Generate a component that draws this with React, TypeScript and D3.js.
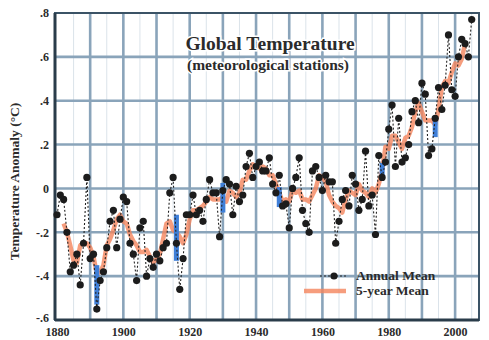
import { useRef, useEffect } from 'react';
import * as d3 from 'd3';

// annual mean anomaly (°C), one value per year starting 1880
const startYear = 1880;
const annualMean = [
  -0.12, -0.03, -0.05, -0.20, -0.38, -0.35, -0.30, -0.44, -0.25, 0.05,
  -0.32, -0.30, -0.55, -0.42, -0.38, -0.27, -0.15, -0.10, -0.27, -0.14,
  -0.04, -0.06, -0.25, -0.30, -0.42, -0.18, -0.15, -0.40, -0.32, -0.36,
  -0.30, -0.33, -0.27, -0.25, -0.02, 0.05, -0.25, -0.46, -0.32, -0.12,
  -0.12, -0.03, -0.12, -0.10, -0.15, -0.05, 0.04, -0.02, -0.02, -0.22,
  -0.01, 0.04, 0.02, -0.12, 0.01, -0.06, -0.03, 0.10, 0.16, 0.05,
  0.10, 0.12, 0.08, 0.08, 0.14, 0.02, -0.02, 0.06, -0.08, -0.07,
  -0.18, 0.00, 0.05, 0.14, -0.10, -0.16, -0.20, 0.08, 0.10, 0.05,
  -0.01, 0.06, 0.03, 0.03, -0.25, -0.15, -0.05, -0.01, -0.08, 0.06,
  0.02, -0.10, -0.05, 0.17, -0.08, -0.03, -0.21, 0.15, 0.05, 0.12,
  0.27, 0.38, 0.10, 0.32, 0.12, 0.14, 0.20, 0.35, 0.40, 0.30,
  0.48, 0.43, 0.15, 0.18, 0.32, 0.46, 0.36, 0.47, 0.70, 0.45,
  0.42, 0.60, 0.68, 0.66, 0.60, 0.77,
];

// 5-year running mean, starting 1882
const fiveYearStart = 1882;
const fiveYearMean = [
  -0.16, -0.20, -0.26, -0.33, -0.34, -0.26, -0.25, -0.25,
  -0.27, -0.31, -0.39, -0.38, -0.35, -0.26, -0.23, -0.19, -0.14, -0.12,
  -0.15, -0.16, -0.21, -0.24, -0.26, -0.29, -0.29, -0.28, -0.31, -0.34,
  -0.32, -0.30, -0.23, -0.16, -0.15, -0.19, -0.20, -0.22, -0.25, -0.21,
  -0.14, -0.10, -0.10, -0.09, -0.08, -0.06, -0.04, -0.05, -0.05, -0.05,
  -0.04, -0.06, -0.01, -0.02, -0.04, -0.02, 0.04, 0.04, 0.08, 0.11,
  0.10, 0.09, 0.10, 0.09, 0.06, 0.06, 0.02, -0.02, -0.06, -0.05,
  -0.06, -0.01, -0.02, -0.01, -0.05, -0.05, -0.06, -0.03, 0.00, 0.06,
  0.05, 0.03, -0.03, -0.06, -0.08, -0.09, -0.11, -0.05, -0.01, -0.02,
  -0.03, 0.02, -0.01, -0.02, -0.04, 0.00, -0.02, 0.02, 0.08, 0.19,
  0.18, 0.24, 0.24, 0.21, 0.18, 0.23, 0.24, 0.28, 0.35, 0.39,
  0.35, 0.31, 0.31, 0.31, 0.29, 0.36, 0.46, 0.49, 0.48, 0.53,
  0.57, 0.56, 0.59, 0.66,
];

// uncertainty bars
const errYears = [1892, 1916, 1930, 1947, 1978, 1994];
const errLow = [-0.53, -0.33, -0.11, -0.085, 0.052, 0.234];
const errHigh = [-0.35, -0.12, 0.025, 0.006, 0.116, 0.326];

const xTicks = [1880, 1900, 1920, 1940, 1960, 1980, 2000];
const yTicks = [-0.6, -0.4, -0.2, 0, 0.2, 0.4, 0.6, 0.8];
const yTickLabels = ['-.6', '-.4', '-.2', '0', '.2', '.4', '.6', '.8'];

export default function App() {
  const svgRef = useRef(null);

  const width = 489;
  const height = 340;
  const left = 55, right = 479, top = 13, bottom = 320;
  const font = '"Liberation Serif", "DejaVu Serif", serif';
  const ink = '#2b2b2b';

  useEffect(() => {
    const svg = d3.select(svgRef.current);
    svg.selectAll('*').remove();

    const xScale = d3.scaleLinear().domain([1879.4, 2007.2]).range([left, right]);
    const yScale = d3.scaleLinear().domain([-0.6, 0.8]).range([bottom, top]);

    svg.append('rect').attr('width', width).attr('height', height).attr('fill', '#fff');

    // grid
    const g = svg.append('g');
    d3.range(1885, 2006, 10).forEach(yr => {
      g.append('line')
        .attr('x1', xScale(yr)).attr('x2', xScale(yr))
        .attr('y1', top).attr('y2', bottom)
        .attr('stroke', '#dbe3ea').attr('stroke-width', 1);
    });
    d3.range(1890, 2001, 10).forEach(yr => {
      g.append('line')
        .attr('x1', xScale(yr)).attr('x2', xScale(yr))
        .attr('y1', top).attr('y2', bottom)
        .attr('stroke', '#8aa4ba').attr('stroke-width', 2.6);
    });
    yTicks.filter(v => v > -0.6 && v < 0.8).forEach(v => {
      g.append('line')
        .attr('x1', left).attr('x2', right)
        .attr('y1', yScale(v)).attr('y2', yScale(v))
        .attr('stroke', '#8aa4ba').attr('stroke-width', 2.6);
    });

    // frame
    g.append('rect')
      .attr('x', left).attr('y', top)
      .attr('width', right - left).attr('height', bottom - top)
      .attr('fill', 'none').attr('stroke', '#3b5366').attr('stroke-width', 2);
    g.append('line')
      .attr('x1', left).attr('x2', left).attr('y1', top).attr('y2', bottom)
      .attr('stroke', '#2a3c4a').attr('stroke-width', 3);
    g.append('line')
      .attr('x1', left).attr('x2', right).attr('y1', bottom).attr('y2', bottom)
      .attr('stroke', '#2a3c4a').attr('stroke-width', 3);

    // title
    const title = svg.append('g')
      .attr('font-family', font).attr('font-weight', 'bold').attr('fill', ink)
      .attr('text-anchor', 'middle')
      .attr('stroke', '#fff').attr('stroke-width', 3).attr('paint-order', 'stroke');
    title.append('text').attr('x', 270).attr('y', 50).attr('font-size', 19.5)
      .text('Global Temperature');
    title.append('text').attr('x', 268).attr('y', 70).attr('font-size', 15.5)
      .text('(meteorological stations)');

    // 5-year mean
    const fiveLine = d3.line<number>()
      .x((d, i) => xScale(fiveYearStart + i))
      .y(d => yScale(d));
    svg.append('path')
      .datum(fiveYearMean)
      .attr('d', fiveLine)
      .attr('fill', 'none')
      .attr('stroke', '#f4845c')
      .attr('stroke-width', 4.5)
      .attr('stroke-opacity', 0.8)
      .attr('stroke-linejoin', 'round');

    // error bars
    errYears.forEach((yr, i) => {
      svg.append('rect')
        .attr('x', xScale(yr) - 2.5)
        .attr('y', yScale(errHigh[i]))
        .attr('width', 5)
        .attr('height', yScale(errLow[i]) - yScale(errHigh[i]))
        .attr('fill', '#3f7fd8');
    });

    // annual mean
    const annualLine = d3.line<number>()
      .x((d, i) => xScale(startYear + i))
      .y(d => yScale(d));
    svg.append('path')
      .datum(annualMean)
      .attr('d', annualLine)
      .attr('fill', 'none')
      .attr('stroke', '#222')
      .attr('stroke-width', 1.1)
      .attr('stroke-dasharray', '2,2');
    svg.append('g')
      .selectAll('circle')
      .data(annualMean)
      .join('circle')
      .attr('cx', (d, i) => xScale(startYear + i))
      .attr('cy', d => yScale(d))
      .attr('r', 3.6)
      .attr('fill', '#1c1c1c');

    // axes labels
    const yAxis = d3.axisLeft(yScale)
      .tickValues(yTicks)
      .tickFormat((d, i) => yTickLabels[i])
      .tickSize(0)
      .tickPadding(6);
    svg.append('g')
      .attr('transform', `translate(${left},0)`)
      .call(yAxis)
      .call(a => a.select('.domain').remove())
      .selectAll('text')
      .attr('font-family', font).attr('font-weight', 'bold')
      .attr('font-size', 12).attr('fill', ink)
      .attr('dy', (d, i) => (i === 0 ? '0.1em' : '0.32em'));

    const xAxis = d3.axisBottom(xScale)
      .tickValues(xTicks)
      .tickFormat(d3.format('d'))
      .tickSize(0)
      .tickPadding(7);
    svg.append('g')
      .attr('transform', `translate(0,${bottom})`)
      .call(xAxis)
      .call(a => a.select('.domain').remove())
      .selectAll('text')
      .attr('font-family', font).attr('font-weight', 'bold')
      .attr('font-size', 12).attr('fill', ink);

    svg.append('text')
      .attr('transform', `translate(19,${(top + bottom) / 2 + 15}) rotate(-90)`)
      .attr('text-anchor', 'middle')
      .attr('font-family', font).attr('font-weight', 'bold')
      .attr('font-size', 13.5).attr('fill', ink)
      .text('Temperature Anomaly (°C)');

    // legend
    const lg = svg.append('g')
      .attr('font-family', font).attr('font-weight', 'bold').attr('font-size', 13.5).attr('fill', ink);
    lg.append('line').attr('x1', 320).attr('x2', 348).attr('y1', 276).attr('y2', 276)
      .attr('stroke', '#222').attr('stroke-width', 1.1).attr('stroke-dasharray', '2,2');
    lg.append('circle').attr('cx', 334).attr('cy', 276).attr('r', 3.6).attr('fill', '#1c1c1c');
    lg.append('text').attr('x', 356).attr('y', 280).text('Annual Mean');
    lg.append('line').attr('x1', 304).attr('x2', 346).attr('y1', 291).attr('y2', 291)
      .attr('stroke', '#f4845c').attr('stroke-width', 4.5).attr('stroke-opacity', 0.8);
    lg.append('text').attr('x', 356).attr('y', 295).text('5-year Mean');
  }, []);

  return (
    <div style={{ position: 'fixed', top: 0, left: 0 }}>
      <svg ref={svgRef} width={width} height={height} style={{ display: 'block' }}></svg>
    </div>
  );
}
